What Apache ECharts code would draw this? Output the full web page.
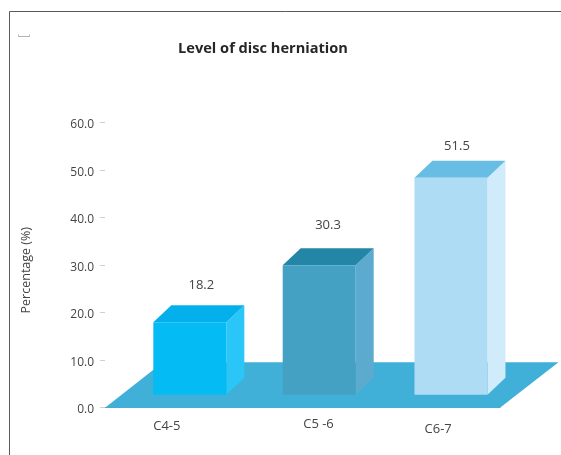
<!DOCTYPE html>
<html>
<head>
<meta charset="utf-8">
<style>html,body{margin:0;padding:0;background:#fff}#c{width:561px;height:455px}</style>
<script src="https://cdn.jsdelivr.net/npm/echarts@6/dist/echarts.min.js"></script>
</head>
<body>
<div id="c"></div>
<script>
const chartTitle = 'Level of disc herniation';
const yAxisTitle = 'Percentage (%)';
const categories = ['C4-5', 'C5 -6', 'C6-7'];
const barHeights = [18.0, 30.0, 48.4];
const valueLabels = ['18.2', '30.3', '51.5'];
const yMin = 0, yMax = 60, yStep = 10;

const frontColors = ['#04BBF4', '#44A1C4', '#ADDCF4'];
const topColors = ['#04B0EC', '#2486A6', '#68BDE4'];
const sideColors = ['#2AC6F8', '#5CABCE', '#D0EBFA'];

const FONT = '"Open Sans", sans-serif';
const depthX = 18, depthY = 17, barW = 73, baseLift = 13;
const barShift = [19, 16.7, 16.8];
const labelShift = [[11.5, -37], [8.8, -39.5], [6, -32]];

function renderFloor(params, api) {
  const cs = params.coordSys;
  const y0 = api.coord([0, 0])[1];
  const l = cs.x, r = cs.x + cs.width;
  return {
    type: 'polygon',
    shape: { points: [[l, y0], [r, y0], [r + 58.5, y0 - 45.4], [l + 58, y0 - 45.4]] },
    style: { fill: '#40B0D8', opacity: 1 }
  };
}

function renderBar(params, api) {
  const i = api.value(0);
  const top = api.coord([i, api.value(1)]);
  const y0 = api.coord([i, 0])[1];
  const x = top[0] + barShift[i] - barW / 2;
  const yT = top[1], yB = y0 - baseLift;
  const xR = x + barW;
  return {
    type: 'group',
    children: [
      { type: 'polygon', shape: { points: [[xR, yT], [xR + depthX, yT - depthY], [xR + depthX, yB - depthY], [xR, yB]] }, style: { fill: sideColors[i], opacity: 1 } },
      { type: 'polygon', shape: { points: [[x, yT], [x + depthX, yT - depthY], [xR + depthX, yT - depthY], [xR, yT]] }, style: { fill: topColors[i], opacity: 1 } },
      { type: 'rect', shape: { x: x, y: yT, width: barW, height: yB - yT }, style: { fill: frontColors[i], opacity: 1 } },
      { type: 'text', style: {
          x: x + barW / 2 + labelShift[i][0], y: yT + labelShift[i][1],
          text: valueLabels[i], fill: '#444', font: '13px ' + FONT,
          align: 'center', verticalAlign: 'middle' } }
    ]
  };
}

const chart = echarts.init(document.getElementById('c'), null, { renderer: 'canvas' });
chart.setOption({
  animation: false,
  backgroundColor: '#fff',
  title: {
    text: chartTitle, left: 258, top: 36, textAlign: 'center',
    textStyle: { fontFamily: FONT, fontSize: 14.6, fontWeight: 'bold', color: '#262626' }
  },
  grid: { left: 105, right: 61, top: 122.7, bottom: 47.3 },
  xAxis: {
    type: 'category',
    data: categories,
    axisLine: { lineStyle: { color: '#5B9FB8', width: 1 } },
    axisTick: { length: 6, lineStyle: { color: '#C8C8C8' } },
    axisLabel: {
      margin: 10,
      fontFamily: FONT, fontSize: 13, color: '#444',
      formatter: function (v, i) { return '{l' + i + '|' + v + '}'; },
      rich: {
        l0: { fontFamily: FONT, fontSize: 13, color: '#444', padding: [2, 8, 0, 0] },
        l1: { fontFamily: FONT, fontSize: 13, color: '#444', padding: [0, 0, 0, 32] },
        l2: { fontFamily: FONT, fontSize: 13, color: '#444', padding: [5, 0, 0, 8] }
      }
    }
  },
  yAxis: {
    type: 'value',
    min: yMin, max: yMax, interval: yStep,
    name: yAxisTitle,
    nameLocation: 'middle',
    nameGap: 72,
    nameRotate: 90,
    nameTextStyle: { fontFamily: FONT, fontSize: 12.5, color: '#444', padding: [0, 10, 0, 0] },
    axisLine: { show: false },
    axisTick: { show: true, length: 5, lineStyle: { color: '#D0D0D0' } },
    splitLine: { show: false },
    axisLabel: {
      margin: 11, fontFamily: FONT, fontSize: 12, color: '#444',
      formatter: function (v) { return '{t|' + v.toFixed(1) + '}'; },
      rich: { t: { fontFamily: FONT, fontSize: 12, color: '#444', padding: [4, 0, 0, 0] } }
    }
  },
  series: [
    { type: 'custom', z: 1, silent: true, renderItem: renderFloor, data: [[0]], clip: false, itemStyle: { opacity: 1 } },
    { type: 'custom', z: 2, silent: true, renderItem: renderBar, clip: false, itemStyle: { opacity: 1 },
      encode: { x: 0, y: 1 },
      data: barHeights.map(function (h, i) { return [i, h]; }) }
  ],
  graphic: [
    { type: 'polyline', silent: true, z: 10, shape: { points: [[9.5, 455], [9.5, 11.5], [561, 11.5]] },
      style: { stroke: '#5A5A5A', lineWidth: 1, fill: null } },
    { type: 'polyline', silent: true, z: 10, shape: { points: [[18.5, 34.5], [18.5, 36.5], [29.5, 36.5], [29.5, 34.5]] },
      style: { stroke: '#B4B4B4', lineWidth: 1, fill: null } }
  ]
});
</script>
</body>
</html>
